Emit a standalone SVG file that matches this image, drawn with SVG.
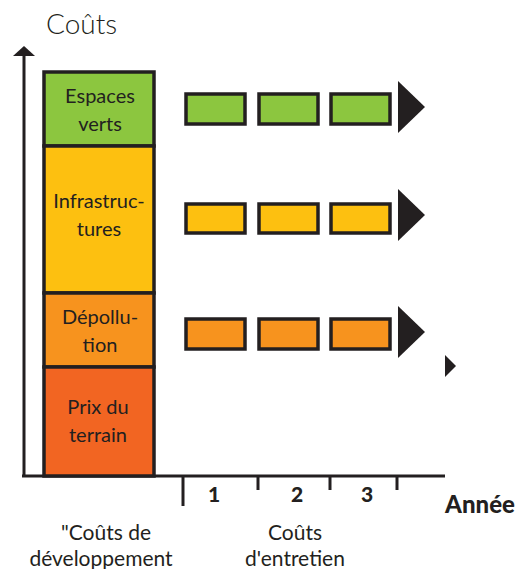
<svg xmlns="http://www.w3.org/2000/svg" width="519" height="569" viewBox="0 0 519 569">
<style>
text{font-family:"Lato","Open Sans","Liberation Sans",sans-serif;fill:#231f20}
.lbl{font-size:20px;text-anchor:middle}
.bot{font-size:21px;text-anchor:middle}
.blk{stroke:#231f20;stroke-width:3.5}
.sm{stroke:#231f20;stroke-width:3.5}
.ax{stroke:#231f20;stroke-width:3;fill:none}
.tri{fill:#231f20}
.g{fill:#8cc63f}.y{fill:#fdc010}.o{fill:#f7931e}.r{fill:#f26522}
</style>
<rect width="519" height="569" fill="#fff"/>
<text x="46" y="34" style="font-size:28px;font-weight:300">Coûts</text>
<g id="axes">
<line class="ax" x1="24" y1="54" x2="24" y2="477"/>
<polygon class="tri" points="13,56 35,56 24,46"/>
<line class="ax" x1="22" y1="476" x2="445" y2="476"/>
<line class="ax" x1="183" y1="476" x2="183" y2="506"/>
<line class="ax" x1="258" y1="476" x2="258" y2="490"/>
<line class="ax" x1="330" y1="476" x2="330" y2="490"/>
<line class="ax" x1="397" y1="476" x2="397" y2="490"/>
<text x="214" y="502" style="font-size:21px;font-weight:900;text-anchor:middle">1</text>
<text x="297" y="502" style="font-size:21px;font-weight:900;text-anchor:middle">2</text>
<text x="367" y="502" style="font-size:21px;font-weight:900;text-anchor:middle">3</text>
<text x="480" y="513" style="font-size:24px;font-weight:900;text-anchor:middle">Année</text>
</g>
<g id="espaces-verts">
<rect class="blk g" x="44" y="72" width="110" height="74"/>
<text class="lbl" x="100" y="103">Espaces</text>
<text class="lbl" x="100" y="131">verts</text>
</g>
<g id="infrastructures">
<rect class="blk y" x="44" y="146" width="110" height="147"/>
<text class="lbl" x="99" y="208">Infrastruc-</text>
<text class="lbl" x="99" y="236">tures</text>
</g>
<g id="depollution">
<rect class="blk o" x="44" y="293" width="110" height="74"/>
<text class="lbl" x="100" y="324">Dépollu-</text>
<text class="lbl" x="100" y="352">tion</text>
</g>
<g id="prix-terrain">
<rect class="blk r" x="44" y="367" width="110" height="109"/>
<text class="lbl" x="98" y="414">Prix du</text>
<text class="lbl" x="98" y="442">terrain</text>
</g>
<g id="row-green">
<rect class="sm g" x="186" y="94" width="59" height="30"/>
<rect class="sm g" x="259" y="94" width="59" height="30"/>
<rect class="sm g" x="331" y="94" width="59" height="30"/>
<polygon class="tri" points="398,81 425,107 398,133"/>
</g>
<g id="row-yellow">
<rect class="sm y" x="186" y="204" width="59" height="29"/>
<rect class="sm y" x="259" y="204" width="59" height="29"/>
<rect class="sm y" x="331" y="204" width="59" height="29"/>
<polygon class="tri" points="398,189 425,215 398,241"/>
</g>
<g id="row-orange">
<rect class="sm o" x="186" y="319" width="59" height="30"/>
<rect class="sm o" x="259" y="319" width="59" height="30"/>
<rect class="sm o" x="331" y="319" width="59" height="30"/>
<polygon class="tri" points="398,306 425,332 398,358"/>
</g>
<polygon class="tri" points="445,355 456,366 445,377"/>
<text class="bot" x="106" y="540">"Coûts de</text>
<text class="bot" x="101" y="566">développement</text>
<text class="bot" x="295" y="540">Coûts</text>
<text class="bot" x="295" y="566">d'entretien</text>
</svg>
